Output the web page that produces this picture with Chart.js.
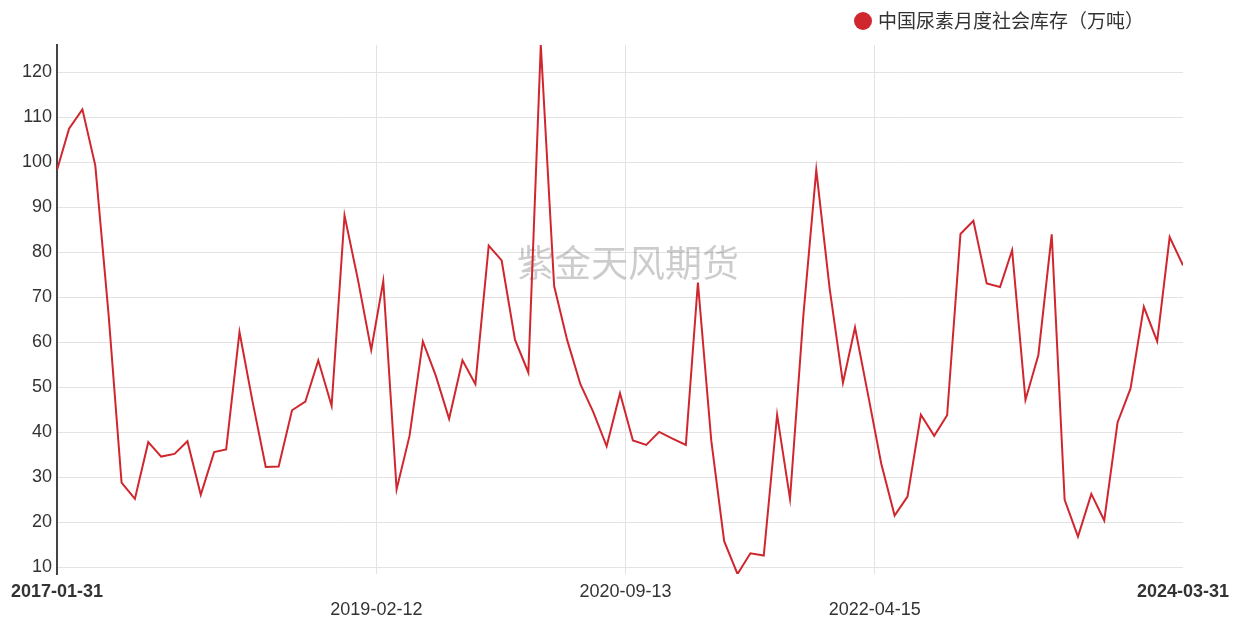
<!DOCTYPE html>
<html>
<head>
<meta charset="utf-8">
<script src="https://cdn.jsdelivr.net/npm/chart.js@4"></script>
<style>
  html, body { margin: 0; padding: 0; background: #fff; }
  #wrap { width: 1237px; height: 621px; position: relative; }
</style>
</head>
<body>
<div id="wrap"><canvas id="chart"></canvas></div>
<script>
// 月末日期
const dates = [
  '2017-01-31','2017-02-28','2017-03-31','2017-04-30','2017-05-31','2017-06-30','2017-07-31','2017-08-31','2017-09-30','2017-10-31','2017-11-30','2017-12-31',
  '2018-01-31','2018-02-28','2018-03-31','2018-04-30','2018-05-31','2018-06-30','2018-07-31','2018-08-31','2018-09-30','2018-10-31','2018-11-30','2018-12-31',
  '2019-01-31','2019-02-28','2019-03-31','2019-04-30','2019-05-31','2019-06-30','2019-07-31','2019-08-31','2019-09-30','2019-10-31','2019-11-30','2019-12-31',
  '2020-01-31','2020-02-29','2020-03-31','2020-04-30','2020-05-31','2020-06-30','2020-07-31','2020-08-31','2020-09-30','2020-10-31','2020-11-30','2020-12-31',
  '2021-01-31','2021-02-28','2021-03-31','2021-04-30','2021-05-31','2021-06-30','2021-07-31','2021-08-31','2021-09-30','2021-10-31','2021-11-30','2021-12-31',
  '2022-01-31','2022-02-28','2022-03-31','2022-04-30','2022-05-31','2022-06-30','2022-07-31','2022-08-31','2022-09-30','2022-10-31','2022-11-30','2022-12-31',
  '2023-01-31','2023-02-28','2023-03-31','2023-04-30','2023-05-31','2023-06-30','2023-07-31','2023-08-31','2023-09-30','2023-10-31','2023-11-30','2023-12-31',
  '2024-01-31','2024-02-29','2024-03-31'
];

// 中国尿素月度社会库存（万吨）
const stock = [
  98.3, 107.5, 111.8, 99.3, 66, 28.8, 25.2, 37.8, 34.6, 35.2, 38, 26.1,
  35.6, 36.2, 62.3, 47, 32.3, 32.4, 44.9, 46.8, 56, 45.9, 88.2, 74,
  58.3, 73.6, 27.3, 39.2, 60.2, 52.6, 43, 56, 50.7, 81.5, 78.2, 60.6,
  53.3, 126.1, 72.5, 60.6, 50.7, 44.5, 36.9, 48.7, 38.2, 37.2, 40.1, 38.6,
  37.2, 73.3, 38.2, 15.8, 8.5, 13.1, 12.6, 43.9, 25.2, 66, 98.3, 72,
  51, 63.3, 48, 33, 21.5, 25.7, 43.9, 39.2, 43.8, 84.1, 87, 73.1,
  72.3, 80.5, 47.2, 57.2, 84, 25, 16.8, 26.3, 20.4, 42.2, 49.7, 67.9,
  60.2, 83.4, 77.1
];

const xTickLabels = ['2017-01-31', '2019-02-12', '2020-09-13', '2022-04-15', '2024-03-31'];
const yTicks = [10, 20, 30, 40, 50, 60, 70, 80, 90, 100, 110, 120];

const seriesName = '中国尿素月度社会库存（万吨）';
const watermark = '紫金天风期货';
const lineColor = '#d0272f';
const FONT = 'Arial, "Liberation Sans", "Noto Sans CJK SC", sans-serif';

const toTime = d => Date.parse(d);

// 水印 + 右上角图例
const decor = {
  id: 'decor',
  beforeDatasetsDraw(chart) {
    const { ctx, chartArea } = chart;
    ctx.save();
    ctx.font = '37px "Noto Sans CJK SC", sans-serif';
    ctx.fillStyle = 'rgba(0,0,0,0.2)';
    ctx.textAlign = 'center';
    ctx.textBaseline = 'middle';
    ctx.fillText(watermark, (chartArea.left + chartArea.right) / 2 + 8, 263);
    ctx.restore();
  },
  afterDraw(chart) {
    const { ctx, chartArea } = chart;
    ctx.save();
    ctx.font = '19px "Noto Sans CJK SC", ' + FONT;
    const w = ctx.measureText(seriesName).width;
    const right = chartArea.right - 39;
    const y = 21;
    ctx.fillStyle = lineColor;
    ctx.beginPath();
    ctx.arc(right - w - 15, y, 9, 0, Math.PI * 2);
    ctx.fill();
    ctx.fillStyle = '#333';
    ctx.textAlign = 'left';
    ctx.textBaseline = 'middle';
    ctx.fillText(seriesName, right - w, y);
    ctx.restore();
  }
};

new Chart(document.getElementById('chart'), {
  type: 'line',
  data: {
    datasets: [{
      label: seriesName,
      data: dates.map((d, i) => ({ x: toTime(d), y: stock[i] })),
      borderColor: lineColor,
      backgroundColor: lineColor,
      borderWidth: 2,
      pointRadius: 0,
      tension: 0
    }]
  },
  options: {
    responsive: true,
    maintainAspectRatio: false,
    animation: false,
    layout: { padding: { top: 45, right: 54, left: 0, bottom: 0 } },
    plugins: {
      legend: { display: false },
      tooltip: { enabled: false }
    },
    scales: {
      x: {
        type: 'linear',
        min: toTime(dates[0]),
        max: toTime(dates[dates.length - 1]),
        afterBuildTicks: axis => {
          axis.ticks = xTickLabels.map(d => ({ value: toTime(d) }));
        },
        afterFit: axis => {
          axis.height = 47;
          axis.paddingLeft = 0;
          axis.paddingRight = 0;
        },
        border: { display: false },
        grid: {
          drawTicks: false,
          color: ctx => (ctx.index === 0 || ctx.index === xTickLabels.length - 1) ? 'rgba(0,0,0,0)' : '#e3e3e3',
          lineWidth: 1
        },
        ticks: {
          autoSkip: false,
          maxRotation: 0,
          minRotation: 0,
          padding: 9,
          color: '#333',
          font: ctx => ({
            family: FONT,
            size: 18,
            lineHeight: 1,
            weight: (ctx.index === 0 || ctx.index === xTickLabels.length - 1) ? 'bold' : 'normal'
          }),
          callback: (value, index) => index % 2 === 1 ? ['', xTickLabels[index]] : xTickLabels[index]
        }
      },
      y: {
        min: Math.min(...stock),
        max: Math.max(...stock),
        afterBuildTicks: axis => {
          axis.ticks = yTicks.map(v => ({ value: v }));
        },
        afterFit: axis => { axis.width = 57; },
        border: { display: true, color: '#444', width: 2 },
        grid: { drawTicks: false, color: '#e3e3e3', lineWidth: 1 },
        ticks: {
          padding: 5,
          color: '#333',
          font: { family: FONT, size: 18 }
        }
      }
    }
  },
  plugins: [decor]
});
</script>
</body>
</html>
